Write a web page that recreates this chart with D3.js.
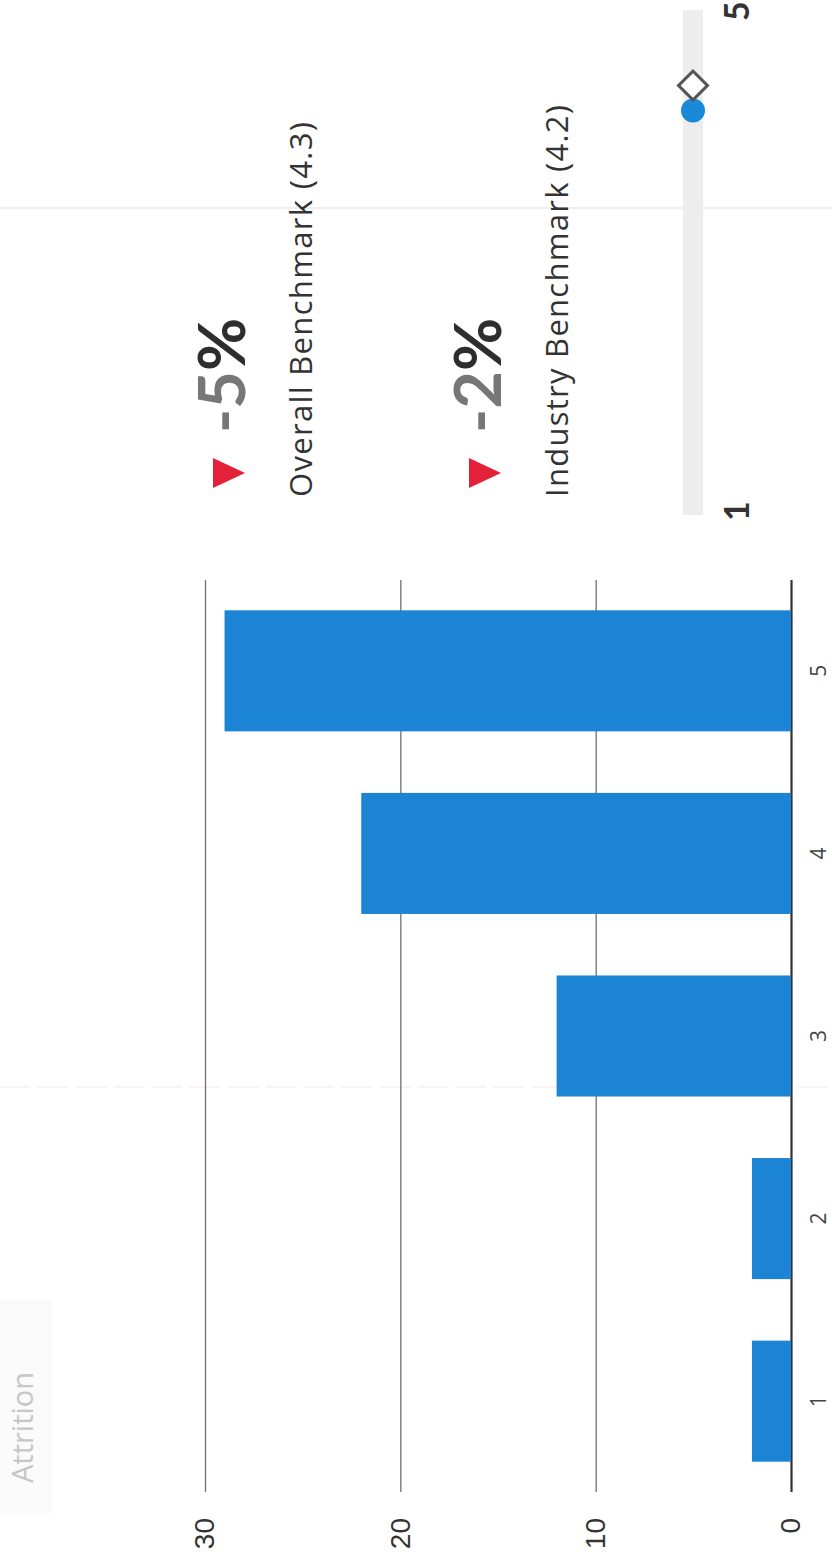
<!DOCTYPE html>
<html>
<head>
<meta charset="utf-8">
<script src="https://cdn.jsdelivr.net/npm/d3@7"></script>
<style>
  html, body { margin: 0; padding: 0; background: #fff; }
  svg { display: block; }
</style>
</head>
<body>
<div id="chart"></div>
<script>
// Attrition distribution by rating, with the score against its benchmarks
const categories = ["1", "2", "3", "4", "5"];
const counts = [2, 2, 12, 22, 29];
const valueTicks = [0, 10, 20, 30];

const benchmarkNames = ["Overall Benchmark", "Industry Benchmark"];
const benchmarkScores = [4.3, 4.2];
const benchmarkDeltas = [-5, -2];
const score = 4.1;
const ratingRange = [1, 5];

const W = 832, H = 1559;
const svg = d3.select("#chart").append("svg")
  .attr("width", W).attr("height", H);
svg.append("rect").attr("width", W).attr("height", H).attr("fill", "#fff");

// The page is laid out sideways: draw in a landscape frame, turned a quarter
const g = svg.append("g").attr("transform", `translate(0,${H}) rotate(-90)`);

// faint separators of the page
g.append("line").attr("x1", 1351).attr("x2", 1351).attr("y1", 0).attr("y2", W)
  .attr("stroke", "#efefef").attr("stroke-width", 2);
g.append("line").attr("x1", 472).attr("x2", 472).attr("y1", 0).attr("y2", W)
  .attr("stroke", "#f7e3eb").attr("stroke-width", 1.2).attr("stroke-dasharray", "30 8");

// title
g.append("rect").attr("x", 46).attr("y", 0).attr("width", 213).attr("height", 52)
  .attr("fill", "#fafafa");
g.append("text").attr("x", 76).attr("y", 33)
  .attr("font-family", "'Open Sans', sans-serif").attr("font-size", 29)
  .attr("fill", "#c6c6c6").text("Attrition");

// bar chart
const x = d3.scaleBand().domain(categories).range([67, 979])
  .paddingInner(0.337).paddingOuter(0.166);
const y = d3.scaleLinear().domain([0, 30]).range([791, 205]);

const yAxis = g.append("g").attr("transform", "translate(67,0)")
  .call(d3.axisLeft(y).tickValues(valueTicks).tickSize(-(979 - 67)).tickPadding(26));
yAxis.select(".domain").remove();
yAxis.selectAll(".tick line")
  .attr("stroke", d => d === 0 ? "#333" : "#6f6f6f")
  .attr("stroke-width", d => d === 0 ? 2.2 : 1.3);
yAxis.selectAll(".tick text")
  .attr("font-family", "'Liberation Sans', Arial, sans-serif")
  .attr("font-size", 28).attr("fill", "#333");

g.append("g").selectAll("rect").data(counts).join("rect")
  .attr("x", (d, i) => x(categories[i]))
  .attr("width", x.bandwidth())
  .attr("y", d => y(d))
  .attr("height", d => y(0) - y(d))
  .attr("fill", "#1b84d4");

const xAxis = g.append("g").attr("transform", `translate(0,${y(0)})`)
  .call(d3.axisBottom(x).tickSize(0).tickPadding(20));
xAxis.select(".domain").remove();
xAxis.selectAll(".tick text")
  .attr("font-family", "'Open Sans', sans-serif")
  .attr("font-size", 21).attr("fill", "#444");

// benchmark comparisons
const rowOffset = 256;
benchmarkNames.forEach((name, i) => {
  const dv = i * rowOffset;
  g.append("path")
    .attr("d", `M1071,${213 + dv}L1101,${213 + dv}L1086,${245 + dv}Z`)
    .attr("fill", "#e3223a");
  const delta = g.append("text").attr("x", 1126).attr("y", 245 + dv)
    .attr("font-family", "Lato, sans-serif").attr("font-weight", 700)
    .attr("font-size", 65);
  delta.append("tspan").attr("fill", "#777").text(String(benchmarkDeltas[i]));
  delta.append("tspan").attr("fill", "#2e2e2e").text("%");
  g.append("text").attr("x", 1062).attr("y", 312 + dv)
    .attr("font-family", "'Open Sans', sans-serif").attr("font-size", 31)
    .attr("fill", "#333")
    .attr("textLength", 375 + i * 17).attr("lengthAdjust", "spacing")
    .text(`${name} (${benchmarkScores[i].toFixed(1)})`);
});

// rating scale with score and overall benchmark
const r = d3.scaleLinear().domain(ratingRange).range([1061, 1561]);
const trackStart = 1044, trackEnd = 1549, trackV = 693;
g.append("rect").attr("x", trackStart).attr("y", trackV - 10)
  .attr("width", trackEnd - trackStart).attr("height", 20)
  .attr("fill", "#ededed");
g.append("circle").attr("cx", r(score)).attr("cy", trackV).attr("r", 12)
  .attr("fill", "#1a8ad8");
g.append("path")
  .attr("d", d3.symbol(d3.symbolSquare, 420)())
  .attr("transform", `translate(${r(benchmarkScores[0])},${trackV}) rotate(45)`)
  .attr("fill", "#fff").attr("stroke", "#555").attr("stroke-width", 3);
g.selectAll(".end").data(ratingRange).join("text")
  .attr("class", "end")
  .attr("x", (d, i) => i === 0 ? trackStart + 4 : trackEnd - 1)
  .attr("y", 749)
  .attr("text-anchor", "middle")
  .attr("font-family", "Lato, sans-serif").attr("font-weight", 700)
  .attr("font-size", 34).attr("fill", "#333")
  .text(d => d);
</script>
</body>
</html>
